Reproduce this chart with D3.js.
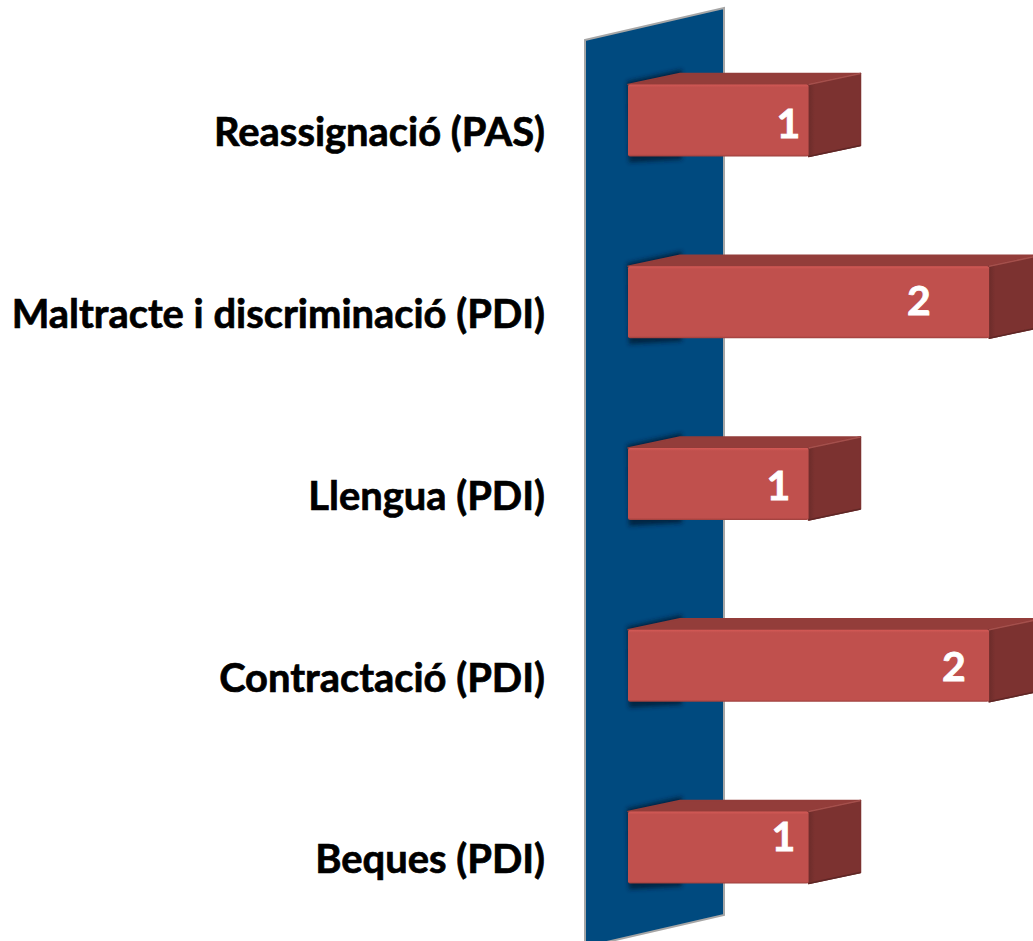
<!DOCTYPE html>
<html>
<head>
<meta charset="utf-8">
<script src="https://cdn.jsdelivr.net/npm/d3@7"></script>
<style>
html, body { margin: 0; padding: 0; background: #fff; overflow: hidden; }
svg { display: block; }
.axis text { font-family: Lato, "Open Sans", sans-serif; font-weight: 700; font-size: 39.9px; fill: #000; stroke: #000; stroke-width: 0.7px; }
.value { font-family: Lato, "Open Sans", sans-serif; font-weight: 700; font-size: 41px; fill: #fff; stroke: #fff; stroke-width: 0.8px; text-anchor: middle; }
</style>
</head>
<body>
<div id="chart"></div>
<script>
const categories = ["Reassignació (PAS)", "Maltracte i discriminació (PDI)", "Llengua (PDI)", "Contractació (PDI)", "Beques (PDI)"];
const values = [1, 2, 1, 2, 1];

// the value labels were dragged by hand in the original
const labelShift = [-20, -70, -30, -35, -25];
const labelDrop = [4, -1, 2, 1, -11];

const width = 1033;
const height = 941;
const depth = { x: 52, y: -11 };

const svg = d3.select("#chart").append("svg")
    .attr("width", width)
    .attr("height", height);

const defs = svg.append("defs");
defs.append("filter").attr("id", "blur")
    .attr("x", "-20%").attr("y", "-50%").attr("width", "140%").attr("height", "200%")
    .append("feGaussianBlur").attr("stdDeviation", 2);
defs.append("filter").attr("id", "soft")
    .append("feGaussianBlur").attr("stdDeviation", 0.7);

const front = defs.append("linearGradient").attr("id", "front")
    .attr("x1", 0).attr("x2", 0).attr("y1", 0).attr("y2", 1);
front.append("stop").attr("offset", "0").attr("stop-color", "#d45a56");
front.append("stop").attr("offset", "0.04").attr("stop-color", "#c0504d");
front.append("stop").attr("offset", "0.97").attr("stop-color", "#c0504d");
front.append("stop").attr("offset", "1").attr("stop-color", "#9c3f3c");

const side = defs.append("linearGradient").attr("id", "side")
    .attr("x1", 0).attr("x2", 1).attr("y1", 0).attr("y2", 0);
side.append("stop").attr("offset", "0").attr("stop-color", "#6b2c2a");
side.append("stop").attr("offset", "0.12").attr("stop-color", "#7c3230");
side.append("stop").attr("offset", "1").attr("stop-color", "#7c3230");

const x = d3.scaleLinear().domain([0, 2]).range([628, 989]);
const y = d3.scaleBand().domain(categories).range([29.5, 938.5]).paddingInner(0.604).paddingOuter(0.302);

// back wall
svg.append("polygon")
    .attr("points", "585,40 724,8 724,915 585,947")
    .attr("fill", "#004a7f")
    .attr("stroke", "#a6a6a6")
    .attr("stroke-width", 2);

const bars = svg.selectAll("g.bar").data(categories).enter().append("g").attr("class", "bar");

// shadows where the bar goes into the wall
bars.append("path")
    .attr("d", d => {
        const t = y(d), b = t + y.bandwidth(), l = x(0);
        return `M${l - 1},${t - 3} L${l + depth.x + 2},${t + depth.y - 4} L${l + depth.x + 2},${t + 10} L${l + depth.x + 2},${b + 3} L${l + 1},${b + 6} Z`;
    })
    .attr("fill", "#001e36")
    .attr("opacity", 0.8)
    .attr("filter", "url(#blur)");

// top face
bars.append("path")
    .attr("d", (d, i) => {
        const t = y(d), l = x(0), r = x(values[i]);
        return `M${l},${t} L${l + depth.x},${t + depth.y} L${r + depth.x},${t + depth.y} L${r},${t} Z`;
    })
    .attr("fill", "#933d3a")
    .attr("stroke", "#933d3a")
    .attr("stroke-width", 1.5)
    .attr("stroke-linejoin", "round");

// right face
bars.append("path")
    .attr("d", (d, i) => {
        const t = y(d), b = t + y.bandwidth(), r = x(values[i]);
        return `M${r},${t} L${r + depth.x},${t + depth.y} L${r + depth.x},${b + depth.y} L${r},${b} Z`;
    })
    .attr("fill", "url(#side)")
    .attr("stroke", "#7c3230")
    .attr("stroke-width", 1.5)
    .attr("stroke-linejoin", "round");

// light edge between top and right faces
bars.append("line")
    .attr("x1", (d, i) => x(values[i]))
    .attr("y1", d => y(d))
    .attr("x2", (d, i) => x(values[i]) + depth.x)
    .attr("y2", d => y(d) + depth.y)
    .attr("stroke", "#a5504c")
    .attr("stroke-width", 1.5)
    .attr("filter", "url(#soft)");

// dark lower edge of the right face
bars.append("line")
    .attr("x1", (d, i) => x(values[i]))
    .attr("y1", d => y(d) + y.bandwidth())
    .attr("x2", (d, i) => x(values[i]) + depth.x)
    .attr("y2", d => y(d) + y.bandwidth() + depth.y)
    .attr("stroke", "#5e2725")
    .attr("stroke-width", 1.5)
    .attr("filter", "url(#soft)");

// front face
bars.append("rect")
    .attr("x", x(0))
    .attr("y", d => y(d))
    .attr("width", (d, i) => x(values[i]) - x(0))
    .attr("height", y.bandwidth())
    .attr("rx", 2)
    .attr("fill", "url(#front)");

bars.append("text")
    .attr("class", "value")
    .attr("x", (d, i) => x(values[i]) + labelShift[i])
    .attr("y", (d, i) => y(d) + y.bandwidth() / 2 + 14 + labelDrop[i])
    .text((d, i) => values[i]);

const yAxis = d3.axisLeft(y).tickSize(0).tickPadding(0);
const yAxisGroup = svg.append("g").attr("class", "axis")
    .attr("transform", "translate(545, 13)")
    .call(yAxis);
yAxisGroup.select(".domain").remove();
yAxisGroup.selectAll("text").attr("font-family", null).attr("font-size", null);
</script>
</body>
</html>
